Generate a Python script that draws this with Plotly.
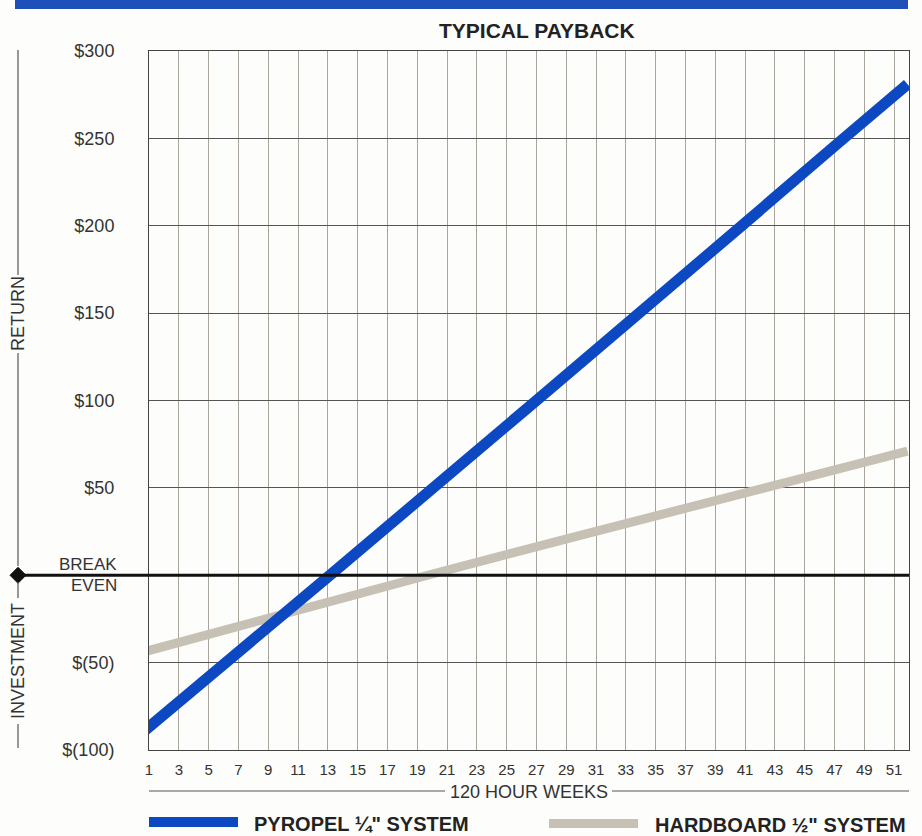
import plotly.graph_objects as go

# ---- data ----
title = "TYPICAL PAYBACK"
week_ticks = list(range(1, 52, 2))
y_ticks = [-100, -50, 0, 50, 100, 150, 200, 250, 300]
y_tick_labels = ["$(100)", "$(50)", "", "$50", "$100", "$150", "$200", "$250", "$300"]

pyropel_name = "PYROPEL \u00bc\" SYSTEM"
pyropel_weeks = [0.7, 6.2, 13.0, 27.0, 34.0, 40.5, 47.2, 51.9]
pyropel_values = [-89, -50, -1, 100, 150, 198, 247, 281]

hardboard_name = "HARDBOARD \u00bd\" SYSTEM"
hardboard_weeks = [0.6, 7.8, 19.7, 30.0, 41.5, 51.9]
hardboard_values = [-44, -27, 0, 23, 48, 71]

# ---- layout helpers (pixel -> paper) ----
W, H = 922, 836
L, R, T, B = 149, 909, 51, 750
def xp(px):
    return (px - L) / (R - L)
def yp(py):
    return (B - py) / (B - T)

BLUE = "#0c48c2"
GRAY = "#c6c1b4"
FONT = "Liberation Sans, Arial, sans-serif"

fig = go.Figure()
fig.add_trace(go.Scatter(x=hardboard_weeks, y=hardboard_values, mode="lines",
                         line=dict(color=GRAY, width=9), name=hardboard_name,
                         cliponaxis=False, showlegend=False))
fig.add_trace(go.Scatter(x=pyropel_weeks, y=pyropel_values, mode="lines",
                         line=dict(color=BLUE, width=11), name=pyropel_name,
                         cliponaxis=False, showlegend=False))

shapes = []
# top blue bar
shapes.append(dict(type="rect", xref="paper", yref="paper", x0=xp(15), x1=xp(908),
                   y0=yp(9), y1=yp(0), fillcolor="#1f4fb8", line=dict(width=0), layer="above"))
# break-even line
shapes.append(dict(type="line", xref="paper", yref="y", x0=xp(18), x1=1, y0=0, y1=0,
                   line=dict(color="#111111", width=3), layer="above"))
# diamond
shapes.append(dict(type="path", xref="paper", yref="y", xsizemode="pixel", ysizemode="pixel",
                   xanchor=xp(18), yanchor=0, path="M -8 0 L 0 8 L 8 0 L 0 -8 Z",
                   fillcolor="#111111", line=dict(color="#111111", width=1), layer="above"))
# left vertical rule segments
for a, b in [(50, 275), (353, 566), (582, 598), (724, 748)]:
    shapes.append(dict(type="line", xref="paper", yref="paper", x0=xp(18), x1=xp(18),
                       y0=yp(a), y1=yp(b), line=dict(color="#555555", width=1.2)))
# x title side rules
for a, b in [(149, 445), (612, 909)]:
    shapes.append(dict(type="line", xref="paper", yref="paper", x0=xp(a), x1=xp(b),
                       y0=yp(791), y1=yp(791), line=dict(color="#555555", width=1.2)))
# legend swatches
shapes.append(dict(type="rect", xref="paper", yref="paper", x0=xp(149), x1=xp(238),
                   y0=yp(827), y1=yp(817), fillcolor=BLUE, line=dict(width=0)))
shapes.append(dict(type="rect", xref="paper", yref="paper", x0=xp(549), x1=xp(638),
                   y0=yp(828), y1=yp(819), fillcolor=GRAY, line=dict(width=0)))

annotations = []
def ann(text, x, y, size, bold=False, xanchor="center", angle=0, color="#222222"):
    annotations.append(dict(text=("<b>%s</b>" % text) if bold else text, xref="paper", yref="paper",
                            x=xp(x), y=yp(y), xanchor=xanchor, yanchor="middle", showarrow=False,
                            textangle=angle, font=dict(family=FONT, size=size, color=color)))

ann(title, 537, 30, 21, bold=True)
ann("BREAK", 119, 564, 17, xanchor="right", color="#333333")
ann("EVEN", 119, 585, 17, xanchor="right", color="#333333")
ann("RETURN", 18, 314, 18, angle=-90, color="#333333")
ann("INVESTMENT", 18, 661, 18, angle=-90, color="#333333")
ann("120 HOUR WEEKS", 529, 792, 18, color="#333333")
ann(pyropel_name, 252, 824, 20, bold=True, xanchor="left")
ann(hardboard_name, 653, 825, 20, bold=True, xanchor="left")

fig.update_layout(
    width=W, height=H,
    margin=dict(l=L, r=W - R, t=T, b=H - B),
    paper_bgcolor="#fdfdfb", plot_bgcolor="#fdfdfb",
    shapes=shapes, annotations=annotations,
    font=dict(family=FONT, color="#333333"),
    showlegend=False,
)
fig.update_xaxes(range=[1, 52], tickvals=week_ticks, ticktext=[str(w) for w in week_ticks],
                 showgrid=True, gridcolor="#a9a59c", gridwidth=1,
                 showline=True, linecolor="#444444", linewidth=1, mirror=True,
                 zeroline=False, ticks="", ticklabelstandoff=6,
                 tickfont=dict(size=15, color="#333333"))
fig.update_yaxes(range=[-100, 300], tickvals=y_ticks, ticktext=y_tick_labels,
                 showgrid=True, gridcolor="#555555", gridwidth=1,
                 showline=True, linecolor="#444444", linewidth=1, mirror=True,
                 zeroline=False, ticks="", ticklabelstandoff=30,
                 tickfont=dict(size=18, color="#333333"))

fig.write_html("out.html", config={"displayModeBar": False},
               post_script="document.body.style.margin='0';document.body.style.overflow='hidden';")
